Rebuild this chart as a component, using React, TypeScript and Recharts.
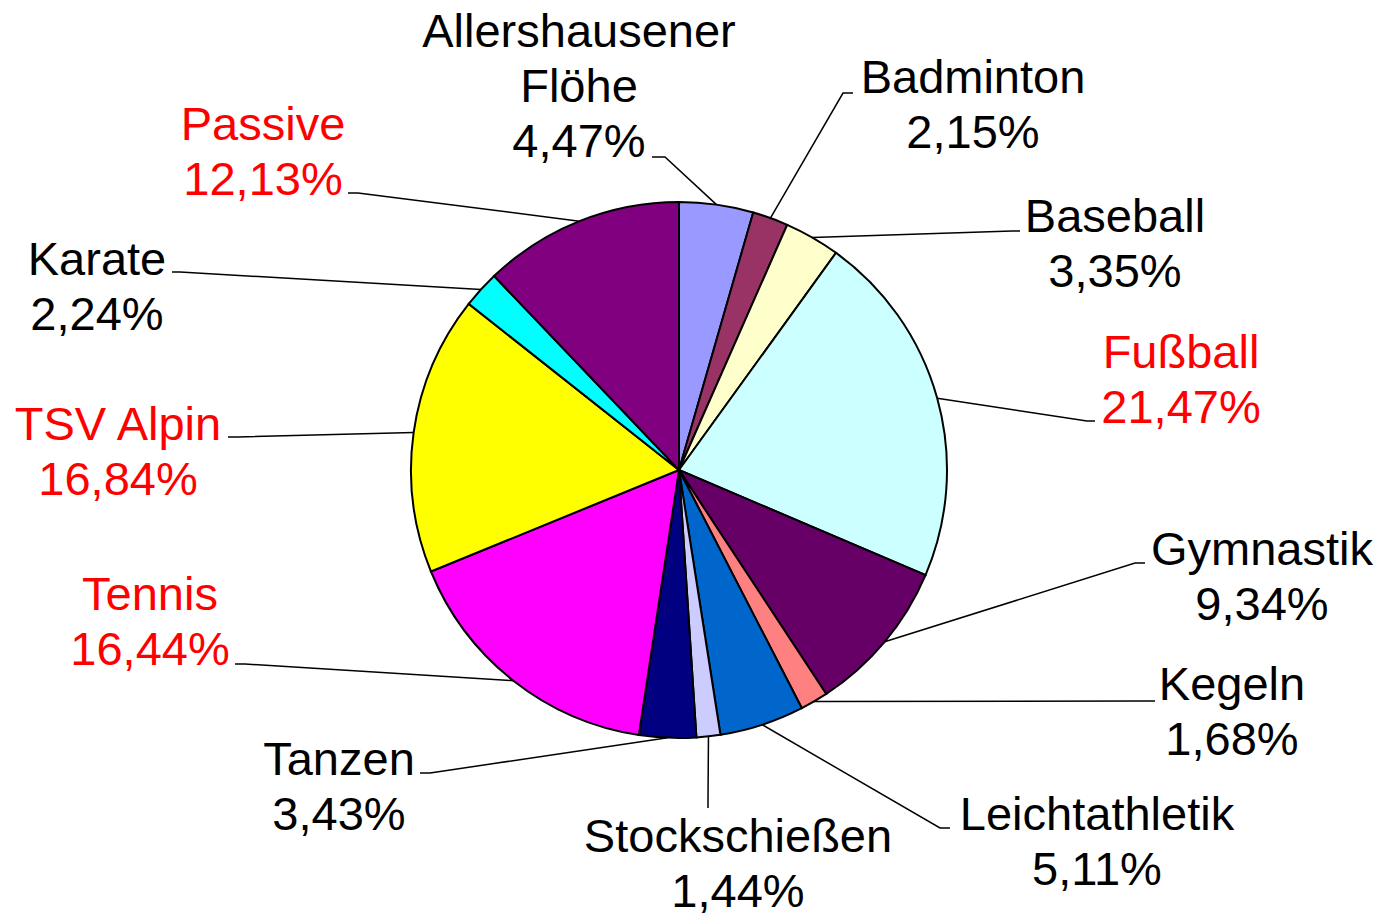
import { Cell, Pie, PieChart } from "recharts";

const categories = [
  "Allershausener Flöhe",
  "Badminton",
  "Baseball",
  "Fußball",
  "Gymnastik",
  "Kegeln",
  "Leichtathletik",
  "Stockschießen",
  "Tanzen",
  "Tennis",
  "TSV Alpin",
  "Karate",
  "Passive",
];
const shares = [4.47, 2.15, 3.35, 21.47, 9.34, 1.68, 5.11, 1.44, 3.43, 16.44, 16.84, 2.24, 12.13];
const highlighted = ["Fußball", "Tennis", "TSV Alpin", "Passive"];

const sliceColors = [
  "#9999FF", "#993366", "#FFFFCC", "#CCFFFF", "#660066", "#FF8080", "#0066CC",
  "#CCCCFF", "#000080", "#FF00FF", "#FFFF00", "#00FFFF", "#800080",
];

// label placement: text centre, first baseline, leader start (at text) and bend
const labelLayout = [
  { x: 579, y: 47, sx: 652, sy: 157, bx: 665, by: 157, lines: ["Allershausener", "Flöhe"] },
  { x: 973, y: 93, sx: 853, sy: 93, bx: 843, by: 93 },
  { x: 1115, y: 232, sx: 1020, sy: 231, bx: 1012, by: 231 },
  { x: 1181, y: 368, sx: 1095, sy: 421, bx: 1087, by: 421 },
  { x: 1262, y: 565, sx: 1145, sy: 563, bx: 1135, by: 563 },
  { x: 1232, y: 700, sx: 1155, sy: 701, bx: 1145, by: 701 },
  { x: 1097, y: 830, sx: 950, sy: 828, bx: 940, by: 828 },
  { x: 738, y: 852, sx: 708, sy: 808, bx: 708, by: 800 },
  { x: 339, y: 775, sx: 420, sy: 773, bx: 430, by: 773 },
  { x: 150, y: 610, sx: 235, sy: 664, bx: 245, by: 664 },
  { x: 118, y: 440, sx: 228, sy: 437, bx: 238, by: 437 },
  { x: 97, y: 275, sx: 172, sy: 272, bx: 180, by: 272 },
  { x: 263, y: 140, sx: 348, sy: 193, bx: 358, by: 193 },
];

const data = categories.map((name, i) => ({ name, value: shares[i] }));
const RADIAN = Math.PI / 180;
const LINE_H = 55;

function renderLabel(props: any) {
  const { cx, cy, midAngle, outerRadius, index } = props;
  const lay = labelLayout[index];
  const ex = cx + Math.cos(-midAngle * RADIAN) * outerRadius;
  const ey = cy + Math.sin(-midAngle * RADIAN) * outerRadius;
  const name = categories[index];
  const lines = [...(lay.lines ?? [name]), shares[index].toFixed(2).replace(".", ",") + "%"];
  const color = highlighted.includes(name) ? "#FF0000" : "#000000";
  return (
    <g key={`lbl-${index}`}>
      <polyline
        points={`${lay.sx},${lay.sy} ${lay.bx},${lay.by} ${ex},${ey}`}
        fill="none"
        stroke="#000"
        strokeWidth={1.5}
      />
      <text
        x={lay.x}
        y={lay.y}
        textAnchor="middle"
        fill={color}
        fontSize={47}
        fontFamily="'Liberation Sans', Arial, sans-serif"
      >
        {lines.map((t, j) => (
          <tspan key={j} x={lay.x} y={lay.y + j * LINE_H}>
            {t}
          </tspan>
        ))}
      </text>
    </g>
  );
}

export default function App() {
  return (
    <div style={{ position: "absolute", left: 0, top: 0, background: "#fff" }}>
      <PieChart width={1387} height={913} margin={{ top: 0, right: 0, bottom: 0, left: 0 }}>
        <Pie
          data={data}
          dataKey="value"
          nameKey="name"
          cx={679}
          cy={470}
          outerRadius={268}
          startAngle={90}
          endAngle={-270}
          stroke="#000"
          strokeWidth={2}
          label={renderLabel}
          labelLine={false}
          isAnimationActive={false}
        >
          {data.map((d, i) => (
            <Cell key={d.name} fill={sliceColors[i]} />
          ))}
        </Pie>
      </PieChart>
    </div>
  );
}
